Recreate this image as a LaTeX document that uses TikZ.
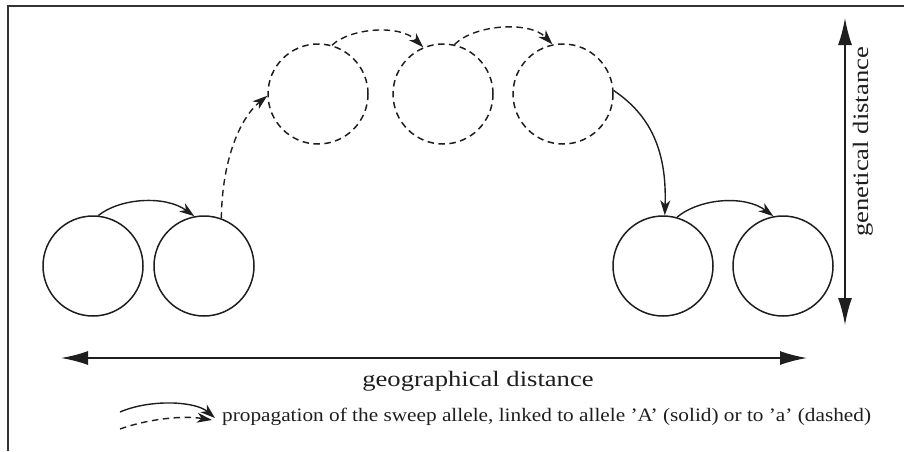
\documentclass[tikz,border=0pt]{standalone}
\usepackage{fontspec}
\setmainfont{Liberation Serif}
\newfontfamily\lblfont[FakeStretch=1.21]{Liberation Serif}
\newfontfamily\legfont[FakeStretch=1.12]{Liberation Serif}
\usetikzlibrary{arrows.meta}
\definecolor{ink}{HTML}{1E1E1E}
\definecolor{txt}{HTML}{1E1E1E}
\definecolor{framec}{HTML}{333333}
\tikzset{
  pop/.style={circle, draw=ink, line width=1.5pt, minimum size=100pt, inner sep=0pt},
  dpop/.style={pop, dash pattern=on 6.5pt off 4.5pt},
  solidarr/.style={draw=ink, line width=1.4pt, -{Stealth[length=15pt,width=10pt,inset=4.5pt]}},
  dasharr/.style={solidarr, dash pattern=on 6.5pt off 4.5pt},
  axis/.style={draw=ink, line width=1.7pt, {Latex[length=27pt,width=14pt]}-{Latex[length=27pt,width=14pt]}},
  lbl/.style={text=txt, inner sep=0pt, font=\lblfont\fontsize{22}{26}\selectfont},
  leg/.style={text=txt, inner sep=0pt, font=\legfont\fontsize{19}{22}\selectfont}
}
\begin{document}
\begin{tikzpicture}[x=1pt,y=-1pt]
\useasboundingbox (0,0) rectangle (904,451);
% frame
\draw[framec, line width=1.6pt] (8,451) |- (904,6);
% populations
\node[pop]  (c1) at (93,266) {};
\node[pop]  (c2) at (204,266) {};
\node[dpop] (c3) at (318,94) {};
\node[dpop] (c4) at (443,94) {};
\node[dpop] (c5) at (563,94) {};
\node[pop]  (c6) at (663,266) {};
\node[pop]  (c7) at (783,266) {};
% propagation arrows
\draw[solidarr] (c1.84) .. controls (120,198) and (165,195) .. (c2.101);
\draw[dasharr] (c2.70) .. controls (222,160) and (240,118) .. (c3.182);
\draw[dasharr] (c3.74) .. controls (350,28) and (400,24) .. (c4.113);
\draw[dasharr] (c4.77) .. controls (475,24) and (530,21) .. (c5.102);
\draw[solidarr] (c5.4) .. controls (650,115) and (667,150) .. (c6.88);
\draw[solidarr] (c6.74) .. controls (700,198) and (745,195) .. (c7.101);
% axes
\coordinate (gL) at (61,358);
\coordinate (gR) at (807,358);
\coordinate (vT) at (845,18);
\coordinate (vB) at (845,325);
\draw[axis] (gL) -- (gR);
\draw[axis] (vT) -- (vB);
\node[lbl, anchor=base] (geo) at (478,386) {geographical distance};
\node[lbl, anchor=base, rotate=90] (gen) at (868,142) {genetical distance};
% legend
\coordinate (ls0) at (120,412);
\coordinate (ls1) at (215,418);
\coordinate (ld0) at (120,429);
\coordinate (ld1) at (212,420);
\draw[solidarr] (ls0) .. controls (150,399) and (195,401) .. (ls1);
\draw[dasharr] (ld0) .. controls (145,420) and (180,415) .. (ld1);
\node[leg, anchor=base west] (legtext) at (222,421) {propagation of the sweep allele, linked to allele ’A’ (solid) or to ’a’ (dashed)};
\end{tikzpicture}
\end{document}
